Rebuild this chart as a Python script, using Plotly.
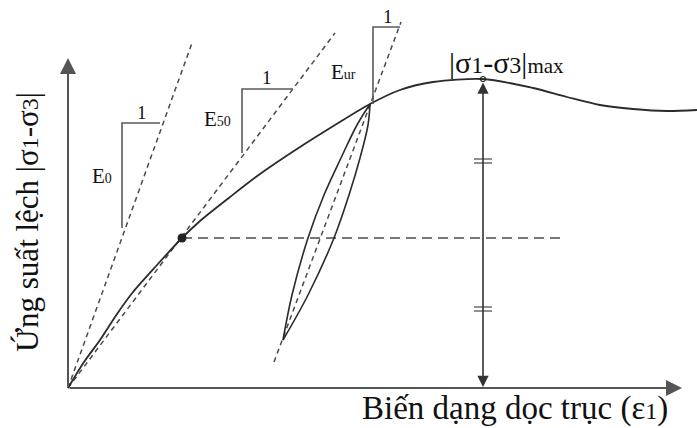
import plotly.graph_objects as go

# Stress-strain curve of a triaxial test (schematic units, origin at axis corner)
strain = [0, 16, 32, 49, 65, 89, 114, 132, 162, 192, 232, 267, 302, 332, 365, 415,
          465, 499, 532, 565, 599, 629]
stress = [0, 26, 48, 74, 96, 123, 150, 167, 191, 214, 241, 263, 284, 298, 306, 309,
          300, 291, 283, 279, 277, 278]

# Unloading / reloading loop
unload_strain = [302, 289, 273, 256, 240, 224, 215]
unload_stress = [284, 263, 230, 193, 150, 93, 48]
reload_strain = [215, 240, 266, 281, 292, 300, 302]
reload_stress = [48, 93, 150, 193, 230, 263, 284]

# Modulus lines: initial tangent E0, secant E50, unload-reload Eur
e0_x, e0_y = [0, 124], [0, 345]
e50_x, e50_y = [0, 267], [0, 355]
eur_x, eur_y = [206, 333], [26, 366]

# Slope triangles (vertical leg then horizontal leg of length "1")
tri_e0_x, tri_e0_y = [54, 54, 92], [160, 265, 265]
tri_e50_x, tri_e50_y = [174, 174, 225], [235, 299, 299]
tri_eur_x, tri_eur_y = [305, 305, 332], [284, 361, 361]

# 50 % of peak deviator stress
half_point = (114, 150)
half_line_x = [114, 492]
peak_point = (415, 309)
tick_levels = [227, 79]

AXIS_END_X = 614
AXIS_END_Y = 330

LINE = "#2b2b2b"
DASH = "#4a4a4a"
AXIS = "#555555"
SERIF = "Liberation Serif, Times New Roman, serif"

fig = go.Figure()


def add_line(x, y, color=LINE, width=1.8, dash="solid", shape="linear", smoothing=0.8):
    fig.add_trace(go.Scatter(x=x, y=y, mode="lines", hoverinfo="skip",
                             line=dict(color=color, width=width, dash=dash, shape=shape,
                                       smoothing=smoothing)))


# modulus lines
add_line(e0_x, e0_y, DASH, 1.5, "5px,4px")
add_line(e50_x, e50_y, DASH, 1.5, "5px,4px")
add_line(eur_x, eur_y, DASH, 1.5, "5px,4px")

# horizontal line at half of peak
add_line(half_line_x, [half_point[1]] * 2, DASH, 1.3, "10px,6px")

# main curve and loop
add_line(strain, stress, LINE, 1.8, shape="spline")
add_line(unload_strain, unload_stress, LINE, 1.6, shape="spline", smoothing=1.0)
add_line(reload_strain, reload_stress, LINE, 1.6, shape="spline", smoothing=1.0)

# slope triangles
for tx, ty in [(tri_e0_x, tri_e0_y), (tri_e50_x, tri_e50_y), (tri_eur_x, tri_eur_y)]:
    add_line(tx, ty, "#5a5a5a", 1.6)

# equal-length ticks on the peak arrow
tick_x, tick_y = [], []
for lv in tick_levels:
    for off in (-2, 2):
        tick_x += [peak_point[0] - 9, peak_point[0] + 9, None]
        tick_y += [lv + off, lv + off, None]
add_line(tick_x, tick_y, "#555555", 1.3)

# marker at 50 % point and at peak
fig.add_trace(go.Scatter(x=[half_point[0]], y=[half_point[1]], mode="markers",
                         hoverinfo="skip",
                         marker=dict(symbol="circle", size=9, color="#222222")))
fig.add_trace(go.Scatter(x=[peak_point[0]], y=[peak_point[1]], mode="markers",
                         hoverinfo="skip",
                         marker=dict(symbol="circle-open", size=5, color="#222222",
                                     line=dict(width=1.2))))

# axes with arrows
fig.add_annotation(x=0, y=AXIS_END_Y, ax=0, ay=0, xref="x", yref="y", axref="x", ayref="y",
                   text="", showarrow=True, arrowhead=2, arrowsize=1.6, arrowwidth=2,
                   arrowcolor=AXIS)
fig.add_annotation(x=AXIS_END_X, y=0, ax=0, ay=0, xref="x", yref="y", axref="x", ayref="y",
                   text="", showarrow=True, arrowhead=2, arrowsize=1.6, arrowwidth=2,
                   arrowcolor=AXIS)

# double arrow from peak to strain axis
fig.add_annotation(x=peak_point[0], y=1, ax=peak_point[0], ay=peak_point[1] - 2,
                   xref="x", yref="y", axref="x", ayref="y", text="", showarrow=True,
                   arrowhead=2, startarrowhead=2, arrowside="end+start",
                   arrowsize=1.4, startarrowsize=1.4, arrowwidth=1.6, arrowcolor="#333333")


# labels
def label(x, y, text, size, anchor="center", angle=0):
    fig.add_annotation(x=x, y=y, xref="x", yref="y", text=text, showarrow=False,
                       xanchor=anchor, yanchor="middle", textangle=angle,
                       font=dict(family=SERIF, size=size, color="#111111"))


label(34, 212, "E<span style='font-size:14px'>0</span>", 21)
label(74, 276, "1", 19)
label(149, 269, "E<span style='font-size:14px'>50</span>", 21)
label(199, 311, "1", 19)
label(275, 316, "E<span style='font-size:14px'>ur</span>", 21)
label(320, 372, "1", 19)
label(438, 326, "|σ<span style='font-size:24px'>1</span>-σ<span style='font-size:24px'>3</span>|"
      "<span style='font-size:21px'>max</span>", 30)
label(447, -20, "Biến dạng dọc trục (ε<span style='font-size:24px'>1</span>)", 33)
label(-41, 166, "Ứng suất lệch |σ<span style='font-size:24px'>1</span>-σ"
      "<span style='font-size:24px'>3</span>|", 31, angle=-90)

fig.update_layout(
    width=697, height=428,
    margin=dict(l=0, r=0, t=0, b=0),
    paper_bgcolor="white", plot_bgcolor="white",
    showlegend=False,
    xaxis=dict(range=[-68, 629], visible=False, fixedrange=True),
    yaxis=dict(range=[-40, 388], visible=False, fixedrange=True),
)

fig.write_html("out.html")
